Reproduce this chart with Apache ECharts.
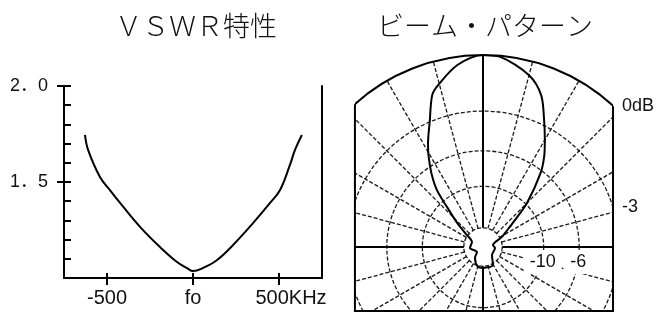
<!DOCTYPE html>
<html><head><meta charset="utf-8">
<script src="https://cdn.jsdelivr.net/npm/echarts@6/dist/echarts.min.js"></script>
<style>html,body{margin:0;padding:0;background:#fff}#c{width:670px;height:313px}</style>
</head><body><div id="c"></div>
<script>
// ---- VSWR chart data ----
const vswrFreq  = [-628,-610,-541,-483,-424,-308,-192,-93,-35,0,58,140,233,349,448,506,564,593,633];
const vswrValue = [1.745,1.667,1.526,1.458,1.391,1.266,1.161,1.083,1.052,1.036,1.052,1.094,1.172,1.286,1.391,1.458,1.59,1.667,1.745];
const xTickValues = [-500, 0, 500];
const xTickLabels = ['-500', 'fo', '500KHz'];
const yLabelValues = [1.5, 2.0];
const yTickLabels = ['1．5', '2．0'];

// ---- Beam pattern data (angle clockwise from front, linear amplitude) ----
const patternAngle = [-180,-166,-144,-130,-94,-66,-52,-47,-42,-39,-35,-31,-28,-23,-18.5,-15.5,-8,0,5,15,21,26,30,34,38,45,51,57,62,79,95,132,151,180];
const patternAmp   = [0.109,0.107,0.071,0.041,0.068,0.063,0.119,0.184,0.28,0.381,0.468,0.55,0.61,0.71,0.834,0.875,0.957,1.0,0.995,0.926,0.846,0.727,0.644,0.57,0.486,0.324,0.2,0.14,0.112,0.053,0.063,0.063,0.107,0.109];
const ringAmp   = [0.1, 0.316, 0.501, 0.708, 1.0];   // -20, -10, -6, -3, 0 dB
const ringLabel = ['', '-10', '-6', '-3', '0dB'];
const radialAngles = [-165,-150,-135,-120,-105,-75,-60,-45,-30,-15,15,30,45,60,75,105,120,135,150,165];
const crossAngles = [-90, 0, 90, 180];

// layout of the clipped frame (in amplitude units of the polar radius)
const boxExtent = {left: 0.667, right: 0.677, bottom: 0.333, top: 1.05};

const chart = echarts.init(document.getElementById('c'));
const INK = '#000';
const labelFont = 'Liberation Sans, Noto Sans CJK JP, sans-serif';

function boxRect(api) {
  const l = api.coord([boxExtent.left, -90])[0];
  const r = api.coord([boxExtent.right, 90])[0];
  const b = api.coord([boxExtent.bottom, 180])[1];
  const t = api.coord([boxExtent.top, 0])[1];
  return {x: l, y: t, width: r - l, height: b - t};
}
function ringRadius(params, api, amp) {
  return params.coordSys.cy - api.coord([amp, 0])[1];
}

const labelIdx = ringLabel.map((t, i) => t ? i : -1).filter(i => i >= 0);

const option = {
  animation: false,
  backgroundColor: '#fff',
  graphic: [
    {type: 'text', x: 196, y: 26, style: {text: 'ＶＳＷＲ特性', font: '300 27px "Noto Sans CJK JP"', fill: '#111', align: 'center', verticalAlign: 'middle'}},
    {type: 'text', x: 485, y: 26, style: {text: 'ビーム・パターン', font: '300 27px "Noto Sans CJK JP"', fill: '#111', align: 'center', verticalAlign: 'middle'}}
  ],
  grid: {left: 64, right: 348, top: 86, bottom: 35},
  xAxis: [
    {type: 'value', min: -750, max: 750, position: 'bottom',
     axisLine: {show: true, onZero: false, lineStyle: {color: INK, width: 2}},
     axisTick: {show: true, inside: true, length: 5, customValues: xTickValues, lineStyle: {color: INK, width: 2}},
     axisLabel: {customValues: xTickValues, margin: 10, color: '#111', fontSize: 20, fontFamily: labelFont,
       formatter: v => { const i = xTickValues.indexOf(v); if (i < 0) return ''; const t = xTickLabels[i]; return t.length > 4 ? '{p|}' + t : t; },
       rich: {p: {width: 24}}},
     splitLine: {show: false}},
    {type: 'value', min: -750, max: 750, position: 'bottom',
     axisLine: {show: false, onZero: false},
     axisTick: {show: true, inside: false, length: 7, customValues: xTickValues, lineStyle: {color: INK, width: 2}},
     axisLabel: {show: false}, splitLine: {show: false}}
  ],
  yAxis: [
    {type: 'value', min: 1, max: 2, interval: 0.5, position: 'left',
     axisLine: {show: true, onZero: false, lineStyle: {color: INK, width: 2}},
     axisTick: {show: true, inside: true, length: 7, lineStyle: {color: INK, width: 2}},
     minorTick: {show: true, splitNumber: 5, length: 7, lineStyle: {color: INK, width: 2}},
     axisLabel: {customValues: yLabelValues, margin: 16, color: '#111', fontSize: 18, fontFamily: labelFont,
       formatter: v => { const i = yLabelValues.indexOf(v); return i < 0 ? '' : yTickLabels[i]; }},
     splitLine: {show: false}, minorSplitLine: {show: false}},
    {type: 'value', min: 1, max: 2, position: 'left',
     axisLine: {show: false, onZero: false},
     axisTick: {show: true, inside: false, length: 7, customValues: yLabelValues, lineStyle: {color: INK, width: 2}},
     axisLabel: {show: false}, splitLine: {show: false}},
    {type: 'value', min: 1, max: 2, position: 'right',
     axisLine: {show: true, onZero: false, lineStyle: {color: INK, width: 2}},
     axisTick: {show: false}, axisLabel: {show: false}, splitLine: {show: false}}
  ],
  polar: {center: [483, 247], radius: 192},
  angleAxis: {type: 'value', min: -180, max: 180, startAngle: 270, clockwise: true,
    axisLine: {show: false}, axisTick: {show: false}, axisLabel: {show: false}, splitLine: {show: false}},
  radiusAxis: {type: 'value', min: 0, max: 1,
    axisLine: {show: false}, axisTick: {show: false}, axisLabel: {show: false}, splitLine: {show: false}},
  series: [
    {type: 'line', xAxisIndex: 0, yAxisIndex: 0, data: vswrFreq.map((f, i) => [f, vswrValue[i]]),
     smooth: 0.4, symbol: 'none', lineStyle: {color: INK, width: 2}, z: 3},
    // rings
    {type: 'custom', coordinateSystem: 'polar', z: 2,
     data: ringAmp.map(a => [a, 0]),
     renderItem: (params, api) => {
       const cs = params.coordSys, amp = api.value(0);
       const outer = amp >= 1;
       return {type: 'circle', shape: {cx: cs.cx, cy: cs.cy, r: ringRadius(params, api, amp)},
         style: {fill: 'none', stroke: outer ? INK : '#1a1a1a', lineWidth: outer ? 2 : 1.3, lineDash: outer ? null : [4, 2]},
         clipPath: {type: 'rect', shape: boxRect(api)}};
     }},
    // dashed radial lines
    {type: 'custom', coordinateSystem: 'polar', z: 2,
     data: radialAngles.map(a => [ringAmp[0], a]),
     renderItem: (params, api) => {
       const a = api.value(1);
       const p0 = api.coord([api.value(0), a]), p1 = api.coord([ringAmp[ringAmp.length - 1], a]);
       return {type: 'line', shape: {x1: p0[0], y1: p0[1], x2: p1[0], y2: p1[1]},
         style: {stroke: '#1a1a1a', lineWidth: 1.3, lineDash: [4, 2]},
         clipPath: {type: 'rect', shape: boxRect(api)}};
     }},
    // solid cross lines
    {type: 'custom', coordinateSystem: 'polar', z: 2,
     data: crossAngles.map(a => [ringAmp[0], a]),
     renderItem: (params, api) => {
       const a = api.value(1);
       const p0 = api.coord([api.value(0), a]), p1 = api.coord([ringAmp[ringAmp.length - 1], a]);
       return {type: 'line', shape: {x1: p0[0], y1: p0[1], x2: p1[0], y2: p1[1]},
         style: {stroke: INK, lineWidth: 2},
         clipPath: {type: 'rect', shape: boxRect(api)}};
     }},
    // frame
    {type: 'custom', coordinateSystem: 'polar', z: 2,
     data: [[ringAmp[ringAmp.length - 1], 0]],
     renderItem: (params, api) => {
       const cs = params.coordSys;
       return {type: 'rect', shape: boxRect(api), style: {fill: 'none', stroke: INK, lineWidth: 2},
         clipPath: {type: 'circle', shape: {cx: cs.cx, cy: cs.cy, r: ringRadius(params, api, api.value(0))}}};
     }},
    // pattern
    {type: 'line', coordinateSystem: 'polar', data: patternAmp.map((a, i) => [a, patternAngle[i]]),
     smooth: 0.3, symbol: 'none', lineStyle: {color: INK, width: 2}, z: 5},
    // ring labels
    {type: 'custom', coordinateSystem: 'polar', z: 10,
     data: labelIdx.map(i => [ringAmp[i], 90]),
     renderItem: (params, api) => {
       const cs = params.coordSys, amp = api.value(0);
       const text = ringLabel[labelIdx[params.dataIndex]];
       const br = boxRect(api);
       const R = ringRadius(params, api, amp);
       const dx = br.x + br.width - cs.cx;
       if (R > dx) {
         return {type: 'text', x: br.x + br.width + 9, y: cs.cy - Math.sqrt(R * R - dx * dx),
           style: {text, font: '18px ' + labelFont, fill: '#111', align: 'left', verticalAlign: 'middle'}};
       }
       const p = api.coord([amp, 90]);
       return {type: 'text', x: p[0] - 1, y: cs.cy + 15,
         style: {text, font: '18px ' + labelFont, fill: '#111', align: 'center', verticalAlign: 'middle',
           backgroundColor: '#fff', padding: [3, 6]}};
     }}
  ]
};
chart.setOption(option);
</script>
</body></html>
